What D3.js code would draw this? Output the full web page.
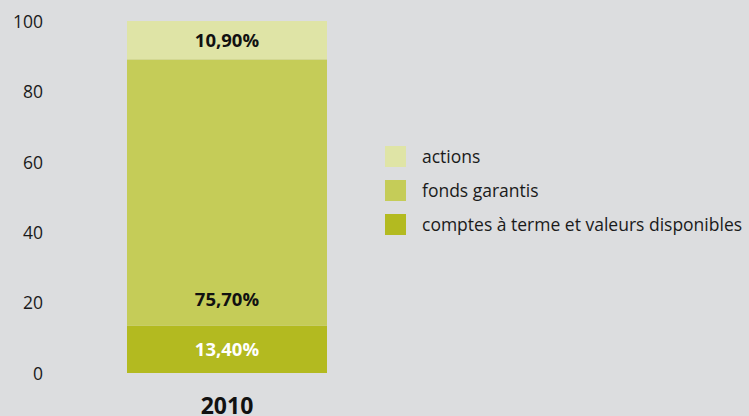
<!DOCTYPE html>
<html>
<head>
<meta charset="utf-8">
<script src="https://cdn.jsdelivr.net/npm/d3@7"></script>
<style>
  html, body { margin: 0; padding: 0; background: #dcdddf; }
  svg { display: block; }
  text { font-family: "Open Sans", "Noto Sans", sans-serif; }
</style>
</head>
<body>
<svg id="chart" width="749" height="416"></svg>
<script>
// Portfolio allocation, 2010 (percent of total)
const years = ["2010"];
const seriesNames = ["comptes à terme et valeurs disponibles", "fonds garantis", "actions"];
const seriesValues = [[13.4], [75.7], [10.9]];
const seriesLabels = [["13,40%"], ["75,70%"], ["10,90%"]];
const seriesColors = ["#b3ba20", "#c5cc58", "#dfe4a6"];
const labelColors = ["#ffffff", "#111111", "#111111"];
const yTicks = [0, 20, 40, 60, 80, 100];

const svg = d3.select("#chart");

const x = d3.scaleBand().domain(years).range([127, 327]).padding(0);
const y = d3.scaleLinear().domain([0, 100]).range([373, 21]);

// Stack the series per year
const rows = years.map((yr, i) => {
  const r = { year: yr };
  seriesNames.forEach((n, k) => { r[n] = seriesValues[k][i]; });
  return r;
});
const stacked = d3.stack().keys(seriesNames)(rows);

const layers = svg.append("g").selectAll("g")
  .data(stacked)
  .join("g")
  .attr("fill", (d, k) => seriesColors[k]);

layers.selectAll("rect")
  .data(d => d)
  .join("rect")
  .attr("x", d => x(d.data.year))
  .attr("width", x.bandwidth())
  .attr("y", d => y(d[1]))
  .attr("height", d => y(d[0]) - y(d[1]));

// Value labels inside each segment; the large middle segment is labelled near its base
stacked.forEach((layer, k) => {
  layer.forEach((d, i) => {
    const v0 = d[0], v1 = d[1];
    const yv = k === 1 ? v0 + 7.6 : (v0 + v1) / 2;
    svg.append("text")
      .attr("x", x(d.data.year) + x.bandwidth() / 2)
      .attr("y", y(yv))
      .attr("dy", "0.36em")
      .attr("text-anchor", "middle")
      .attr("font-size", 18.5)
      .attr("font-weight", "bold")
      .attr("fill", labelColors[k])
      .text(seriesLabels[k][i]);
  });
});

// Y axis: labels only
const yAxis = d3.axisLeft(y).tickValues(yTicks).tickSize(0).tickPadding(0);
const gy = svg.append("g").attr("transform", "translate(43,0)").call(yAxis);
gy.select(".domain").remove();
gy.selectAll("text")
  .attr("font-size", 17.5)
  .attr("font-family", "\"Open Sans\", \"Noto Sans\", sans-serif")
  .attr("fill", "#1a1a1a")
  .attr("dy", "0.36em");

// X axis: category label
const xAxis = d3.axisBottom(x).tickSize(0).tickPadding(0);
const gx = svg.append("g").attr("transform", "translate(0,414)").call(xAxis);
gx.select(".domain").remove();
gx.selectAll("text")
  .attr("y", 0)
  .attr("font-size", 23)
  .attr("font-weight", "bold")
  .attr("font-family", "\"Open Sans\", \"Noto Sans\", sans-serif")
  .attr("fill", "#111111")
  .attr("dy", "0");

// Legend (top to bottom: actions, fonds garantis, comptes)
const legendOrder = [2, 1, 0];
const legend = svg.append("g").attr("transform", "translate(385,146)");
legendOrder.forEach((k, j) => {
  const g = legend.append("g").attr("transform", `translate(0,${j * 34})`);
  g.append("rect").attr("width", 21).attr("height", 21).attr("fill", seriesColors[k]);
  g.append("text")
    .attr("x", 37)
    .attr("y", 10.5)
    .attr("dy", "0.36em")
    .attr("font-size", 17.5)
    .attr("fill", "#1a1a1a")
    .text(seriesNames[k]);
});
</script>
</body>
</html>
